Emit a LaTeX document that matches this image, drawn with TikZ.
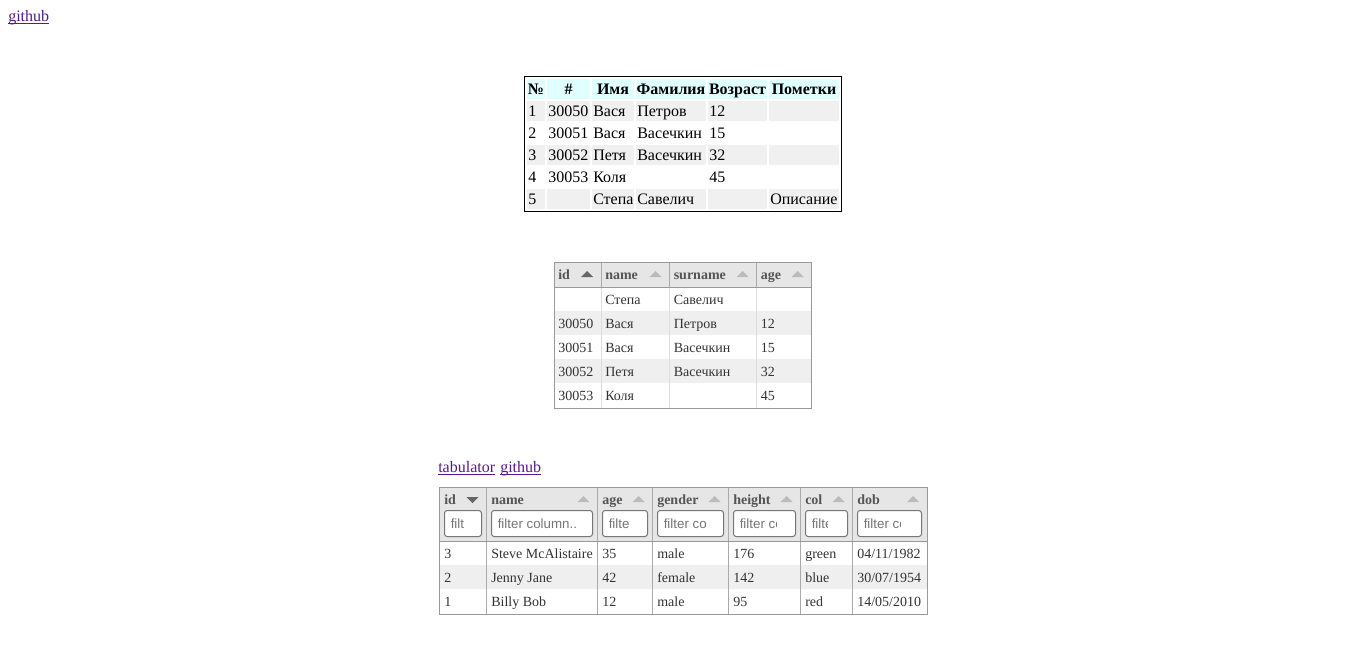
\documentclass[tikz,border=0pt]{standalone}
\usepackage{fontspec}
\setmainfont{Liberation Serif}
\newfontfamily\inpfont{Liberation Sans}
\definecolor{linkc}{HTML}{551A8B}
\definecolor{hdcyan}{HTML}{E0FFFF}
\definecolor{rowgray}{HTML}{F0F0F0}
\definecolor{zebra}{HTML}{EFEFEF}
\definecolor{hdgray}{HTML}{E6E6E6}
\definecolor{bord}{HTML}{999999}
\definecolor{sepd}{HTML}{AAAAAA}
\definecolor{sepl}{HTML}{DDDDDD}
\definecolor{hdtxt}{HTML}{555555}
\definecolor{bdtxt}{HTML}{333333}
\definecolor{arrdark}{HTML}{666666}
\definecolor{arrlight}{HTML}{BBBBBB}
\definecolor{inpb}{HTML}{767676}
\definecolor{phc}{HTML}{757575}
\tikzset{
  big/.style={inner sep=0pt, font=\fontsize{12pt}{14pt}\selectfont, text=black},
  bigb/.style={big, font=\fontsize{12pt}{14pt}\selectfont\bfseries},
  sm/.style={inner sep=0pt, font=\fontsize{10.5pt}{12pt}\selectfont, text=bdtxt},
  smh/.style={inner sep=0pt, font=\fontsize{10.5pt}{12pt}\selectfont\bfseries, text=hdtxt},
  ph/.style={inner sep=0pt, font=\fontsize{10pt}{12pt}\selectfont\inpfont, text=phc},
  lnk/.style={inner sep=0pt, font=\fontsize{12pt}{14pt}\selectfont, text=linkc},
  inbox/.style={draw=inpb, fill=white, rounded corners=2, line width=0.75pt},
}
\begin{document}
\begin{tikzpicture}[x=0.75pt,y=-0.75pt]
\fill[white] (0,0) rectangle (1366,657);
\useasboundingbox (0,0) rectangle (1366,657);

% top link
\node[lnk, anchor=base west] (gh1) at (8,21) {github};
\draw[linkc, line width=0.75pt] (gh1.base west) ++(0,2) -- ++(41,0);

% ===== top table =====
\def\Lc{{527,547,592,636,708,769}}
\def\Rc{{545,590,634,706,767,839}}
\foreach \c in {0,...,5}{
  \pgfmathsetmacro\l{\Lc[\c]}\pgfmathsetmacro\r{\Rc[\c]}
  \fill[hdcyan] (\l,79) rectangle (\r,99);
  \foreach \rr in {1,3,5}{
    \pgfmathsetmacro\tp{101+22*(\rr-1)}
    \fill[rowgray] (\l,\tp) rectangle (\r,\tp+20);
  }
}
\draw[black, line width=0.75pt] (524.5,76.5) rectangle (841.5,211.5);
\node[bigb, anchor=base] (h1) at (536,94) {№};
\node[bigb, anchor=base] (h2) at (568.5,94) {\#};
\node[bigb, anchor=base] (h3) at (613,94) {Имя};
\node[bigb, anchor=base] (h4) at (671,94) {Фамилия};
\node[bigb, anchor=base] (h5) at (737.5,94) {Возраст};
\node[bigb, anchor=base] (h6) at (804,94) {Пометки};
% rows
\node[big, anchor=base west] (r1a) at (528,116) {1};
\node[big, anchor=base west] (r1b) at (548,116) {30050};
\node[big, anchor=base west] (r1c) at (593,116) {Вася};
\node[big, anchor=base west] (r1d) at (637,116) {Петров};
\node[big, anchor=base west] (r1e) at (709,116) {12};
\node[big, anchor=base west] (r2a) at (528,138) {2};
\node[big, anchor=base west] (r2b) at (548,138) {30051};
\node[big, anchor=base west] (r2c) at (593,138) {Вася};
\node[big, anchor=base west] (r2d) at (637,138) {Васечкин};
\node[big, anchor=base west] (r2e) at (709,138) {15};
\node[big, anchor=base west] (r3a) at (528,160) {3};
\node[big, anchor=base west] (r3b) at (548,160) {30052};
\node[big, anchor=base west] (r3c) at (593,160) {Петя};
\node[big, anchor=base west] (r3d) at (637,160) {Васечкин};
\node[big, anchor=base west] (r3e) at (709,160) {32};
\node[big, anchor=base west] (r4a) at (528,182) {4};
\node[big, anchor=base west] (r4b) at (548,182) {30053};
\node[big, anchor=base west] (r4c) at (593,182) {Коля};
\node[big, anchor=base west] (r4e) at (709,182) {45};
\node[big, anchor=base west] (r5a) at (528,204) {5};
\node[big, anchor=base west] (r5c) at (593,204) {Степа};
\node[big, anchor=base west] (r5d) at (637,204) {Савелич};
\node[big, anchor=base west] (r5f) at (770,204) {Описание};

% ===== middle table =====
\fill[hdgray] (554.5,262.5) rectangle (811.5,287);
\fill[zebra] (554.5,311) rectangle (811.5,335);
\fill[zebra] (554.5,359) rectangle (811.5,383);
\foreach \x in {601,669.5,756.5}{
  \draw[sepd, line width=0.75pt] (\x,262.5) -- (\x,287);
  \draw[sepl, line width=0.75pt] (\x,287) -- (\x,408.5);
}
\draw[bord, line width=0.75pt] (554.5,287) -- (811.5,287);
\draw[bord, line width=0.75pt] (554.5,262.5) rectangle (811.5,408.5);
\node[smh, anchor=base west] (m1) at (558,279) {id};
\node[smh, anchor=base west] (m2) at (605,279) {name};
\node[smh, anchor=base west] (m3) at (673.5,279) {surname};
\node[smh, anchor=base west] (m4) at (760.5,279) {age};
\fill[arrdark] (581,277) -- (593,277) -- (587,271) -- cycle;
\foreach \cx in {655.5,742.5,797.5}{
  \fill[arrlight] (\cx-6,277) -- (\cx+6,277) -- (\cx,271) -- cycle;
}
\node[sm, anchor=base west] (ma2) at (605,304) {Степа};
\node[sm, anchor=base west] (ma3) at (673.5,304) {Савелич};
\node[sm, anchor=base west] (mb1) at (558,328) {30050};
\node[sm, anchor=base west] (mb2) at (605,328) {Вася};
\node[sm, anchor=base west] (mb3) at (673.5,328) {Петров};
\node[sm, anchor=base west] (mb4) at (760.5,328) {12};
\node[sm, anchor=base west] (mc1) at (558,352) {30051};
\node[sm, anchor=base west] (mc2) at (605,352) {Вася};
\node[sm, anchor=base west] (mc3) at (673.5,352) {Васечкин};
\node[sm, anchor=base west] (mc4) at (760.5,352) {15};
\node[sm, anchor=base west] (md1) at (558,376) {30052};
\node[sm, anchor=base west] (md2) at (605,376) {Петя};
\node[sm, anchor=base west] (md3) at (673.5,376) {Васечкин};
\node[sm, anchor=base west] (md4) at (760.5,376) {32};
\node[sm, anchor=base west] (me1) at (558,400) {30053};
\node[sm, anchor=base west] (me2) at (605,400) {Коля};
\node[sm, anchor=base west] (me4) at (760.5,400) {45};

% ===== bottom links =====
\node[lnk, anchor=base west] (tb) at (438,472) {tabulator};
\draw[linkc, line width=0.75pt] (tb.base west) ++(0,2) -- (tb.base east |- 0,474);
\node[lnk, anchor=base west] (gh2) at (500,472) {github};
\draw[linkc, line width=0.75pt] (gh2.base west) ++(0,2) -- (gh2.base east |- 0,474);

% ===== bottom table =====
\fill[hdgray] (439.5,487.5) rectangle (927,541);
\fill[zebra] (439.5,565) rectangle (927,589);
\foreach \x in {486.5,597.5,652.5,728.5,800.5,852.5}{
  \draw[sepd, line width=0.75pt] (\x,487.5) -- (\x,614.5);
}
\draw[bord, line width=0.75pt] (439.5,541) -- (927,541);
\draw[bord, line width=0.75pt] (439.5,487.5) rectangle (927,614.5);
% header titles
\node[smh, anchor=base west] (b1) at (444,504) {id};
\node[smh, anchor=base west] (b2) at (491,504) {name};
\node[smh, anchor=base west] (b3) at (602,504) {age};
\node[smh, anchor=base west] (b4) at (657,504) {gender};
\node[smh, anchor=base west] (b5) at (733,504) {height};
\node[smh, anchor=base west] (b6) at (805,504) {col};
\node[smh, anchor=base west] (b7) at (857,504) {dob};
\fill[arrdark] (466.5,497) -- (478.5,497) -- (472.5,503) -- cycle;
\foreach \cx in {583.5,638.5,714.5,786.5,838.5,913}{
  \fill[arrlight] (\cx-6,502) -- (\cx+6,502) -- (\cx,496) -- cycle;
}
% filter inputs: left, right, clip x, visible text
\foreach \bl/\br/\cl/\tx [count=\i] in {444.5/481.5/464/filt,491.5/592.5/580/filter column..,602.5/647.5/629/filte,657.5/723.5/705/filter co,733.5/795.5/776/filter co,805.5/847.5/827/filte,857.5/921.5/900/filter co}{
  \draw[inbox] (\bl,510.5) rectangle (\br,536.5);
  \begin{scope}
    \clip (\bl,511) rectangle (\cl,536);
    \node[ph, anchor=base west] (f\i) at (\bl+6,528) {\tx};
  \end{scope}
}
% body
\node[sm, anchor=base west] (c11) at (444,558) {3};
\node[sm, anchor=base west] (c12) at (491,558) {Steve McAlistaire};
\node[sm, anchor=base west] (c13) at (602,558) {35};
\node[sm, anchor=base west] (c14) at (657,558) {male};
\node[sm, anchor=base west] (c15) at (733,558) {176};
\node[sm, anchor=base west] (c16) at (805,558) {green};
\node[sm, anchor=base west] (c17) at (857,558) {04/11/1982};
\node[sm, anchor=base west] (c21) at (444,582) {2};
\node[sm, anchor=base west] (c22) at (491,582) {Jenny Jane};
\node[sm, anchor=base west] (c23) at (602,582) {42};
\node[sm, anchor=base west] (c24) at (657,582) {female};
\node[sm, anchor=base west] (c25) at (733,582) {142};
\node[sm, anchor=base west] (c26) at (805,582) {blue};
\node[sm, anchor=base west] (c27) at (857,582) {30/07/1954};
\node[sm, anchor=base west] (c31) at (444,606) {1};
\node[sm, anchor=base west] (c32) at (491,606) {Billy Bob};
\node[sm, anchor=base west] (c33) at (602,606) {12};
\node[sm, anchor=base west] (c34) at (657,606) {male};
\node[sm, anchor=base west] (c35) at (733,606) {95};
\node[sm, anchor=base west] (c36) at (805,606) {red};
\node[sm, anchor=base west] (c37) at (857,606) {14/05/2010};
\end{tikzpicture}
\end{document}
